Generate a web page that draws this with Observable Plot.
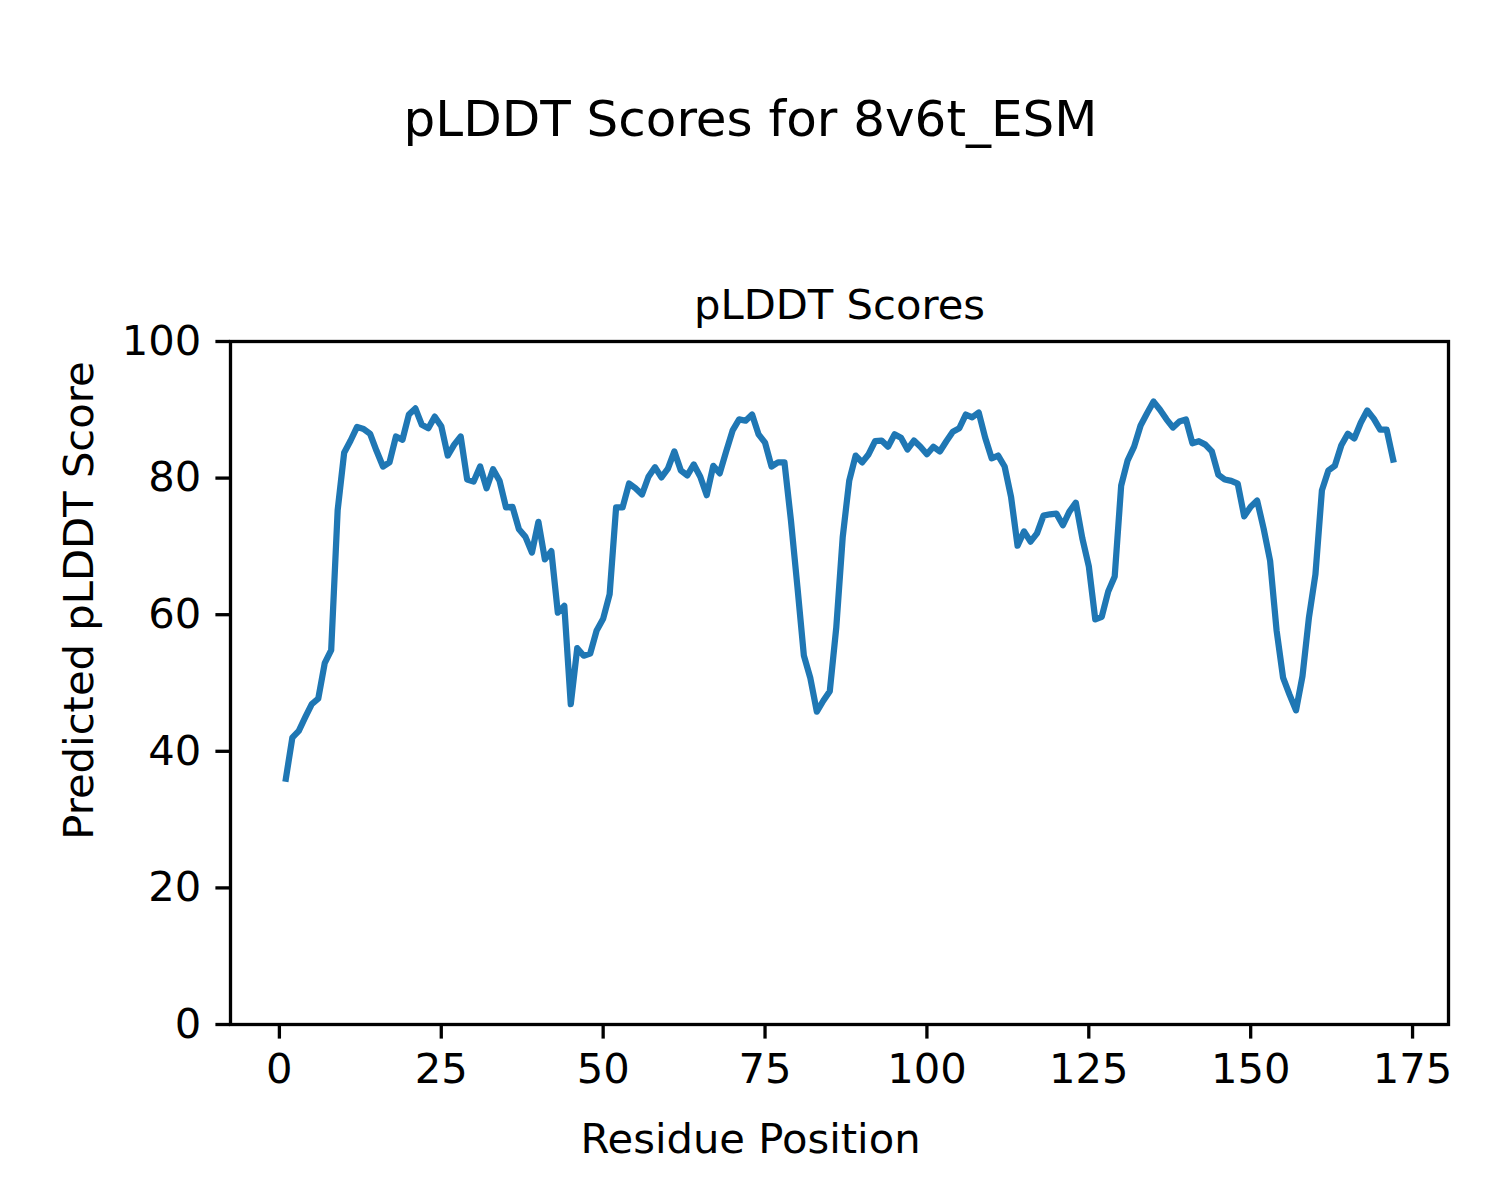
<!DOCTYPE html>
<html>
<head>
<meta charset="utf-8">
<script src="https://cdn.jsdelivr.net/npm/d3@7"></script>
<script src="https://cdn.jsdelivr.net/npm/@observablehq/plot@0.6"></script>
<style>
  html, body { margin: 0; padding: 0; background: #fff; color: #000; }
  #chart svg { display: block; }
</style>
</head>
<body>
<div id="chart"></div>
<script>
// Data
const suptitle = "pLDDT Scores for 8v6t_ESM";
const axesTitle = "pLDDT Scores";
const xLabel = "Residue Position";
const yLabel = "Predicted pLDDT Score";
const xTicks = [0, 25, 50, 75, 100, 125, 150, 175];
const yTicks = [0, 20, 40, 60, 80, 100];
const residues = d3.range(1, 173);
const plddt = [
  36.0,42.0,43.0,45.0,46.9,47.7,52.9,54.8,75.3,83.7,
  85.5,87.5,87.2,86.5,84.0,81.7,82.3,86.1,85.6,89.3,
  90.2,87.8,87.3,89.0,87.6,83.3,84.9,86.1,79.8,79.5,
  81.7,78.5,81.3,79.6,75.7,75.8,72.5,71.4,69.1,73.6,
  68.1,69.3,60.3,61.3,46.9,55.1,54.0,54.3,57.7,59.4,
  63.0,75.7,75.7,79.2,78.5,77.6,80.2,81.6,80.1,81.4,
  83.9,81.1,80.4,82.0,80.2,77.5,81.8,80.7,83.9,87.0,
  88.6,88.4,89.3,86.4,85.2,81.7,82.3,82.3,73.8,64.1,
  54.0,50.7,45.8,47.4,48.8,58.1,71.4,79.6,83.3,82.3,
  83.5,85.4,85.5,84.6,86.4,85.9,84.2,85.5,84.6,83.5,
  84.6,83.9,85.4,86.8,87.3,89.3,88.9,89.6,85.9,82.9,
  83.3,81.7,77.2,70.1,72.2,70.7,71.9,74.5,74.7,74.8,
  73.1,75.1,76.4,71.2,67.1,59.3,59.7,63.4,65.6,78.9,
  82.6,84.6,87.7,89.5,91.2,90.0,88.6,87.4,88.3,88.6,
  85.1,85.4,84.9,83.9,80.5,79.8,79.6,79.2,74.4,75.8,
  76.7,72.6,67.9,57.7,50.8,48.3,46.0,51.0,59.6,65.9,
  78.2,81.1,81.8,84.8,86.5,85.8,88.1,89.9,88.7,87.1,
  87.1,82.7
];

const table = residues.map((r, i) => ({residue: r, score: plddt[i]}));

const W = 1500, H = 1200;
const mL = 230, mR = 52, mT = 341, mB = 176;
const frameCx = mL + (W - mL - mR) / 2;
const frameCy = mT + (H - mT - mB) / 2;
const lw = 3.3;

const chart = Plot.plot({
  width: W,
  height: H,
  marginLeft: mL,
  marginRight: mR,
  marginTop: mT,
  marginBottom: mB,
  style: {fontFamily: "DejaVu Sans", fontSize: "41.7px", color: "#000", background: "#fff", overflow: "visible"},
  x: {domain: [-7.55, 180.55]},
  y: {domain: [0, 100]},
  marks: [
    Plot.axisX({ticks: xTicks, tickSize: 14.6, tickPadding: 14.6, strokeWidth: lw, label: null, fontSize: 41.7}),
    Plot.axisY({ticks: yTicks, tickSize: 14.6, tickPadding: 14.6, strokeWidth: lw, label: null, fontSize: 41.7}),
    Plot.line(table, {x: "residue", y: "score", stroke: "#1f77b4", strokeWidth: 6.25, strokeLinejoin: "round", strokeLinecap: "square"}),
    Plot.frame({stroke: "#000", strokeWidth: lw}),
    Plot.text([axesTitle], {frameAnchor: "top", text: d => d, textAnchor: "middle", lineAnchor: "bottom", dy: -23, fontSize: 41.7, fill: "#000"}),
    Plot.text([suptitle], {frameAnchor: "top", text: d => d, textAnchor: "middle", lineAnchor: "bottom", dx: 750 - frameCx, dy: 135 - mT, fontSize: 50, fill: "#000"}),
    Plot.text([xLabel], {frameAnchor: "bottom", text: d => d, textAnchor: "middle", lineAnchor: "bottom", dx: 750 - frameCx, dy: 1152 - (H - mB), fontSize: 41.7, fill: "#000"}),
    Plot.text([yLabel], {frameAnchor: "left", text: d => d, textAnchor: "middle", lineAnchor: "bottom", rotate: -90, dx: 92 - mL, dy: 600 - frameCy, fontSize: 41.7, fill: "#000"})
  ]
});
document.getElementById("chart").appendChild(chart);
</script>
</body>
</html>
